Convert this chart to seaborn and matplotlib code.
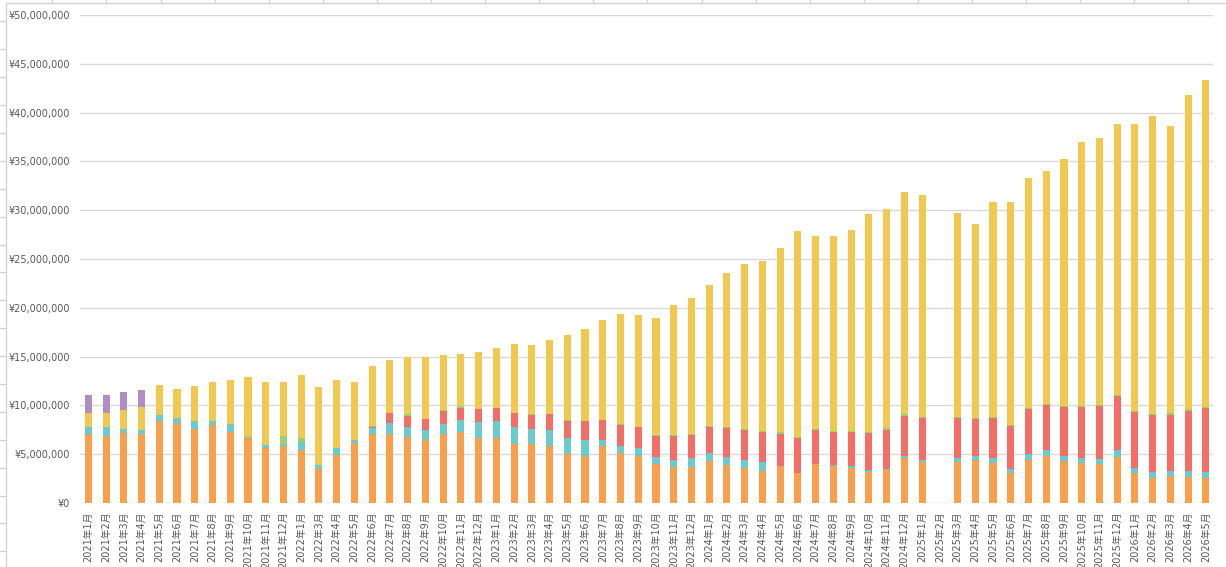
import numpy as np
import pandas as pd
import matplotlib
matplotlib.use("Agg")
import matplotlib.pyplot as plt
from matplotlib.lines import Line2D
from matplotlib.ticker import FuncFormatter, MultipleLocator
import seaborn as sns

months = ["2021年1月", "2021年2月", "2021年3月", "2021年4月", "2021年5月", "2021年6月",
          "2021年7月", "2021年8月", "2021年9月", "2021年10月", "2021年11月", "2021年12月",
          "2022年1月", "2022年3月", "2022年4月", "2022年5月", "2022年6月", "2022年7月",
          "2022年8月", "2022年9月", "2022年10月", "2022年11月", "2022年12月",
          "2023年1月", "2023年2月", "2023年3月", "2023年4月", "2023年5月", "2023年6月",
          "2023年7月", "2023年8月", "2023年9月", "2023年10月", "2023年11月", "2023年12月",
          "2024年1月", "2024年2月", "2024年3月", "2024年4月", "2024年5月", "2024年6月",
          "2024年7月", "2024年8月", "2024年9月", "2024年10月", "2024年11月", "2024年12月",
          "2025年1月", "2025年2月", "2025年3月", "2025年4月", "2025年5月", "2025年6月",
          "2025年7月", "2025年8月", "2025年9月", "2025年10月", "2025年11月", "2025年12月",
          "2026年1月", "2026年2月", "2026年3月", "2026年4月", "2026年5月"]

# values in yen (segments, bottom to top)
orange = [7080000, 6900000, 7140000, 7070000, 8400000, 8200000, 7590000, 7990000, 7280000, 6700000, 5680000, 5880000,
          5480000, 3500000, 4930000, 6160000, 7070000, 7070000, 6800000, 6450000, 7030000, 7310000, 6690000,
          6690000, 6070000, 6000000, 5790000, 5030000, 4830000, 5790000, 5170000, 4830000, 4000000, 3720000, 3720000,
          4340000, 3930000, 3590000, 3310000, 3760000, 3100000, 4030000, 3830000, 3620000, 3210000, 3340000, 4590000,
          4170000, 0, 4210000, 4410000, 4140000, 3100000, 4410000, 4830000, 4340000, 4140000, 4000000, 4760000,
          3100000, 2550000, 2760000, 2690000, 2550000]
teal = [720000, 890000, 450000, 410000, 610000, 510000, 810000, 410000, 820000, 70000, 270000, 170000,
        780000, 410000, 720000, 300000, 620000, 1130000, 1030000, 1000000, 1110000, 1170000, 1590000,
        1690000, 1690000, 1550000, 1660000, 1590000, 1580000, 620000, 690000, 760000, 760000, 730000, 870000,
        830000, 830000, 860000, 930000, 70000, 0, 0, 100000, 210000, 200000, 180000, 270000,
        280000, 0, 450000, 450000, 520000, 420000, 560000, 550000, 520000, 520000, 550000, 620000,
        520000, 660000, 550000, 620000, 660000]
red = [0, 0, 0, 0, 0, 0, 0, 0, 0, 0, 0, 0,
       0, 0, 0, 0, 100000, 1020000, 1130000, 1140000, 1270000, 1240000, 1340000,
       1340000, 1450000, 1450000, 1650000, 1760000, 1970000, 2110000, 2110000, 2170000, 2070000, 2380000, 2340000,
       2590000, 2900000, 3000000, 3000000, 3200000, 3520000, 3420000, 3310000, 3410000, 3730000, 3930000, 4040000,
       4240000, 0, 4030000, 3730000, 4030000, 4340000, 4650000, 4650000, 4970000, 5170000, 5380000, 5590000,
       5690000, 5790000, 5690000, 6100000, 6510000]
green = [0, 0, 0, 0, 0, 0, 0, 0, 0, 0, 0, 850000,
         440000, 0, 0, 0, 100000, 0, 120000, 30000, 140000, 210000, 30000,
         30000, 30000, 140000, 30000, 140000, 30000, 30000, 100000, 30000, 100000, 100000, 140000,
         140000, 100000, 100000, 100000, 210000, 100000, 100000, 100000, 100000, 100000, 210000, 200000,
         140000, 0, 140000, 100000, 140000, 140000, 100000, 110000, 100000, 100000, 100000, 100000,
         100000, 100000, 210000, 210000, 110000]
yellow = [1380000, 1430000, 1930000, 2350000, 3060000, 3020000, 3570000, 3980000, 4490000, 6120000, 6430000, 5480000,
          6400000, 7960000, 6940000, 5920000, 6120000, 5410000, 5850000, 6310000, 5590000, 5310000, 5790000,
          6100000, 7020000, 7020000, 7540000, 8660000, 9380000, 10160000, 11250000, 11430000, 11980000, 13310000, 13980000,
          14480000, 15850000, 16970000, 17490000, 18920000, 21170000, 19840000, 20050000, 20660000, 22400000, 22490000, 22790000,
          22760000, 0, 20910000, 19930000, 22040000, 22870000, 23610000, 23900000, 25340000, 27080000, 27390000, 27790000,
          29450000, 30580000, 29440000, 32210000, 33530000]
purple = [1850000, 1830000, 1840000, 1730000] + [0] * 60

colors = {
    "orange": "#F9A04F",
    "teal": "#6DCACC",
    "red": "#F26E66",
    "green": "#9DD06D",
    "yellow": "#F1C951",
    "purple": "#B08DC3",
}

df = pd.DataFrame({"month": months, "orange": orange, "teal": teal, "red": red,
                   "green": green, "yellow": yellow, "purple": purple})
layers = ["orange", "teal", "red", "green", "yellow", "purple"]
cum = df[layers].cumsum(axis=1)

sns.set_theme(style="white")
plt.rcParams["font.family"] = ["DejaVu Sans", "Noto Sans CJK JP"]

W, H = 1226, 567
fig = plt.figure(figsize=(W / 100, H / 100), dpi=100)
ax = fig.add_axes([80 / W, 1 - 503 / H, (1213 - 80) / W, (503 - 15) / H])

for layer in reversed(layers):
    sns.barplot(x=df["month"], y=cum[layer], color=colors[layer], saturation=1,
                width=0.4, order=months, ax=ax, linewidth=0, errorbar=None, zorder=3)

ax.set_ylim(0, 50_000_000)
ax.set_xlim(-0.47, len(months) - 1 + 0.4)
ax.yaxis.set_major_locator(MultipleLocator(5_000_000))
ax.yaxis.set_major_formatter(FuncFormatter(lambda v, p: "¥{:,.0f}".format(v)))
ax.grid(axis="y", color="#D9D9D9", linewidth=1.0, zorder=0)
ax.grid(axis="x", visible=False)
ax.set_axisbelow(True)
for s in ax.spines.values():
    s.set_visible(False)
ax.set_xlabel("")
ax.set_ylabel("")
ax.tick_params(axis="both", length=0, colors="#595959", labelsize=7)
ax.tick_params(axis="y", pad=7)
ax.tick_params(axis="x", pad=6)
ax.set_xticks(range(len(months)))
ax.set_xticklabels(months, rotation=90, ha="center", va="top")

# spreadsheet frame / cell lines around the chart object
line_c = "#D4D4D4"
fig.add_artist(Line2D([6 / W, 6 / W], [0, 1 - 3 / H], transform=fig.transFigure, color=line_c, lw=1))
fig.add_artist(Line2D([6 / W, 1], [1 - 3 / H, 1 - 3 / H], transform=fig.transFigure, color=line_c, lw=1))
y = 21.3
while y < H:
    fig.add_artist(Line2D([0, 6 / W], [1 - y / H, 1 - y / H], transform=fig.transFigure, color=line_c, lw=1))
    y += 27.9
x = 52.3
while x < W:
    fig.add_artist(Line2D([x / W, x / W], [1 - 3 / H, 1], transform=fig.transFigure, color=line_c, lw=1))
    x += 54.1

fig.savefig("out.png", dpi=100)
